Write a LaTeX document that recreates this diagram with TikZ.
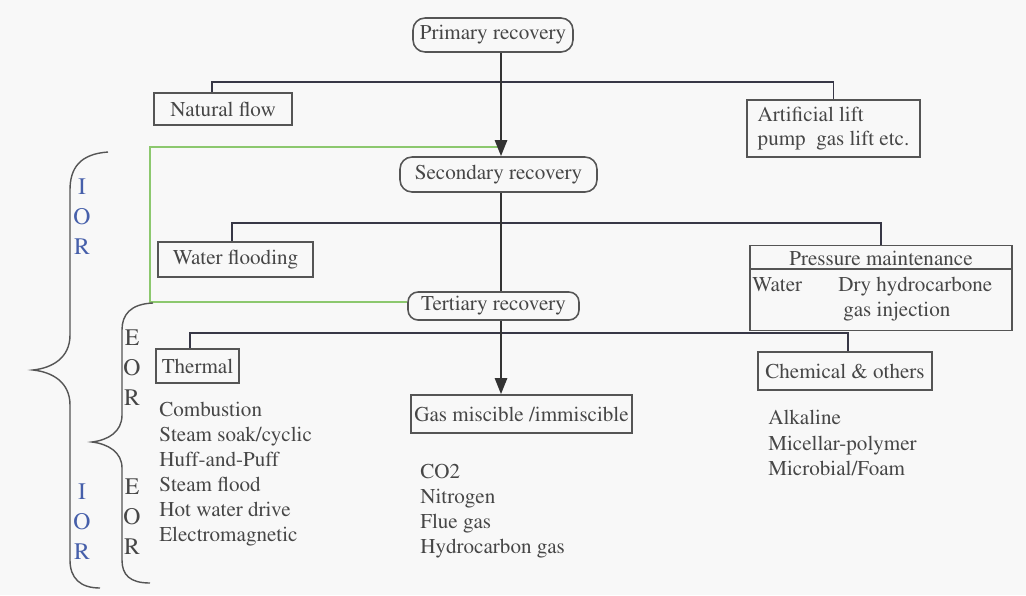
\documentclass[tikz,border=0pt]{standalone}
\usepackage[T1]{fontenc}
\usepackage{mathptmx}
\usetikzlibrary{arrows.meta}
\definecolor{bgcol}{RGB}{248,248,248}
\definecolor{txtcol}{RGB}{70,70,70}
\definecolor{boxcol}{RGB}{85,85,85}
\definecolor{barcol}{RGB}{55,55,70}
\definecolor{grncol}{RGB}{140,200,110}
\definecolor{iorcol}{RGB}{70,95,170}
\begin{document}
\begin{tikzpicture}[x=0.02cm,y=-0.02cm,
  every node/.style={text=txtcol,font=\fontsize{12}{14}\selectfont},
  box/.style={draw=boxcol,line width=0.9pt,inner sep=0pt},
  stage/.style={box,rounded corners=0.24cm},
  item/.style={anchor=base west,inner sep=0pt},
  bar/.style={draw=barcol,line width=1pt},
  spineline/.style={draw=black!80,line width=1.4pt},
  arr/.style={spineline,-{Triangle[length=0.32cm,width=0.24cm]}},
  brc/.style={draw=boxcol,line width=0.8pt},
  letter/.style={font=\fontsize{13.5}{14}\selectfont,inner sep=0pt}]

\fill[bgcol] (0,0) rectangle (1026,595);
\coordinate (spine) at (501,0);
\coordinate (gtop) at (150,147);
\coordinate (gbot) at (150,302);

\node[stage,minimum width=3.2cm,minimum height=0.68cm] (prim) at (493,35) {Primary recovery};
\node[box,minimum width=2.76cm,minimum height=0.64cm] (nat) at (223,109) {Natural flow};
\node[box,minimum width=3.46cm,minimum height=1.14cm,align=left] (art) at (833.5,128.5) {Artificial lift\\pump\ \ gas lift etc.};

\node[stage,minimum width=3.94cm,minimum height=0.7cm] (sec) at (498.5,174.5) {Secondary recovery};
\node[box,minimum width=3.1cm,minimum height=0.7cm] (wat) at (235.5,259.5) {Water flooding};
\node[box,minimum width=5.24cm,minimum height=1.7cm] (pm) at (881,288) {};
\draw[box] ([yshift=-0.49cm]pm.north west) -- ([yshift=-0.49cm]pm.north east);
\node (pmhead) at (881,258) {Pressure maintenance};
\node[item] (pmwater) at (752,291) {Water};
\node[item] (pmdry) at (838,291) {Dry hydrocarbone};
\node[item] (pmgas) at (843,316) {gas injection};

\node[stage,rounded corners=0.2cm,minimum width=3.42cm,minimum height=0.56cm] (ter) at (493.5,306) {Tertiary recovery};
\node[box,minimum width=1.66cm,minimum height=0.68cm] (therm) at (197.5,366) {Thermal};
\node[box,minimum width=4.42cm,minimum height=0.76cm] (gas) at (521.5,414) {Gas miscible /immiscible};
\node[box,minimum width=3.48cm,minimum height=0.76cm] (chem) at (845,371) {Chemical \& others};

\draw[bar] ([xshift=-0.22cm]nat.north) -- ++(0,-10) -| (art.north);
\draw[bar] ([xshift=-0.07cm]wat.north) -- ++(0,-18) -| (pm.north);
\draw[bar] ([xshift=-0.15cm]therm.north) -- ++(0,-15) -| ([xshift=0.06cm]chem.north);

\draw[grncol,line width=0.8pt] (gtop -| spine) -- (gtop) -- (gbot) -- (gbot -| ter.west);

\draw[arr] (prim.south -| spine) -- (sec.north -| spine);
\draw[spineline] (sec.south -| spine) -- (ter.north -| spine);
\draw[arr] (ter.south -| spine) -- (gas.north -| spine);

\foreach \t [count=\i] in {Combustion,Steam soak/cyclic,Huff-and-Puff,Steam flood,Hot water drive,Electromagnetic}
  \node[item] (th\i) at (159,391+25*\i) {\t};
\foreach \t [count=\i] in {CO2,Nitrogen,Flue gas,Hydrocarbon gas}
  \node[item] (gs\i) at (420,453+25*\i) {\t};
\foreach \t [count=\i] in {Alkaline,Micellar-polymer,Microbial/Foam}
  \node[item] (ch\i) at (768,399+25.5*\i) {\t};

\draw[brc] (108,152) .. controls (80,154) and (70,168) .. (70,190) -- (70,335)
  .. controls (70,358) and (52,368) .. (33,370) .. controls (52,372) and (70,382) .. (70,405)
  -- (70,560) .. controls (70,578) and (80,588) .. (100,588);
\draw[brc] (153,303) .. controls (130,304) and (122,315) .. (122,330) -- (122,415)
  .. controls (122,432) and (108,440) .. (92,442) .. controls (108,444) and (122,452) .. (122,468)
  -- (122,560) .. controls (122,575) and (130,583) .. (150,583);

\foreach \l [count=\i] in {I,O,R}{
  \node[letter,text=iorcol] (iora\i) at (82,157+30*\i) {\l};
  \node[letter,text=iorcol] (iorb\i) at (82,462+30*\i) {\l};
}
\foreach \l [count=\i] in {E,O,R}{
  \node[letter] (eora\i) at (132,308+30*\i) {\l};
  \node[letter] (eorb\i) at (132,457+30*\i) {\l};
}
\end{tikzpicture}
\end{document}
